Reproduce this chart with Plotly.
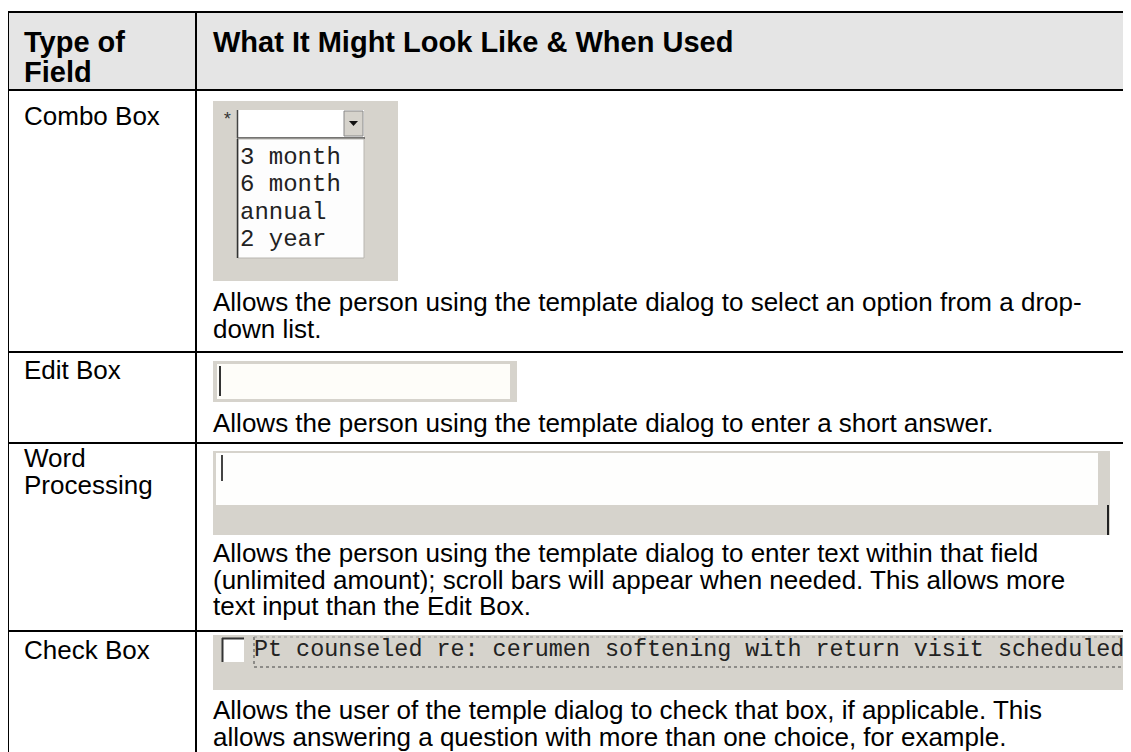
import plotly.graph_objects as go

# ---------------- data (table content) ----------------
header_labels = ["Type of", "Field", "What It Might Look Like & When Used"]
field_types = ["Combo Box", "Edit Box", "Word Processing", "Check Box"]
field_type_lines = [["Combo Box"], ["Edit Box"], ["Word", "Processing"], ["Check Box"]]
descriptions = [
    ["Allows the person using the template dialog to select an option from a drop-",
     "down list."],
    ["Allows the person using the template dialog to enter a short answer."],
    ["Allows the person using the template dialog to enter text within that field",
     "(unlimited amount); scroll bars will appear when needed. This allows more",
     "text input than the Edit Box."],
    ["Allows the user of the temple dialog to check that box, if applicable. This",
     "allows answering a question with more than one choice, for example."],
]
combo_options = ["3 month", "6 month", "annual", "2 year"]
checkbox_label = "Pt counseled re: cerumen softening with return visit scheduled"

# ---------------- layout geometry ----------------
PAGE_W, PAGE_H = 1131, 752
OFF = 8  # the page body margin
W, H = PAGE_W - OFF, PAGE_H - OFF
X_LEFT, X_DIV, X_RIGHT = 8, 196, 1140
ROW_EDGES = [12, 90, 352, 443, 631, 760]
TEXT_X0 = 212
LBL_X0 = 23
LINE_H = 26.5
SANS = "Liberation Sans, Arial, sans-serif"
MONO = "Liberation Mono, Courier New, monospace"
UI_GRAY = "#D6D3CC"
BODY_SIZE = 26
HEAD_SIZE = 29

shapes = []
annotations = []

def rect(x0, y0, x1, y1, fill, line=None, lw=0, dash=None):
    d = dict(type="rect", xref="x", yref="y", x0=x0, y0=y0, x1=x1, y1=y1,
             fillcolor=fill, layer="above",
             line=dict(width=lw, color=line or fill))
    if dash:
        d["line"]["dash"] = dash
    shapes.append(d)

def hline(x0, x1, y, color="#000", w=2, dash=None):
    d = dict(type="line", xref="x", yref="y", x0=x0, x1=x1, y0=y, y1=y,
             line=dict(color=color, width=w), layer="above")
    if dash:
        d["line"]["dash"] = dash
    shapes.append(d)

def vline(x, y0, y1, color="#000", w=2, dash=None):
    d = dict(type="line", xref="x", yref="y", x0=x, x1=x, y0=y0, y1=y1,
             line=dict(color=color, width=w), layer="above")
    if dash:
        d["line"]["dash"] = dash
    shapes.append(d)

def text(x, y, s, size=BODY_SIZE, bold=False, family=SANS, color="#000"):
    annotations.append(dict(
        x=x, y=y, xref="x", yref="y", text=("<b>%s</b>" % s) if bold else s,
        showarrow=False, xanchor="left", yanchor="middle", align="left",
        borderpad=0,
        font=dict(family=family, size=size, color=color)))

# header background
rect(X_LEFT, ROW_EDGES[0], X_RIGHT, ROW_EDGES[1], "#E5E5E5")

# header text
text(LBL_X0, 42, header_labels[0], size=HEAD_SIZE, bold=True)
text(LBL_X0, 72, header_labels[1], size=HEAD_SIZE, bold=True)
text(TEXT_X0, 42, header_labels[2], size=HEAD_SIZE, bold=True)

# left column labels
label_y_first = [116, 370, 458, 650]
for lines, y0 in zip(field_type_lines, label_y_first):
    for i, ln in enumerate(lines):
        text(LBL_X0, y0 + i * LINE_H, ln)

# descriptions
desc_y_first = [302, 423, 553, 710]
for lines, y0 in zip(descriptions, desc_y_first):
    for i, ln in enumerate(lines):
        text(TEXT_X0, y0 + i * LINE_H, ln)

# ---- combo box picture ----
rect(213, 101, 398, 281, UI_GRAY)
text(221, 120, "*", size=18, family=MONO, color="#333")
rect(238, 110, 364, 137, "#FFFFFF")
vline(237.5, 110, 138, color="#444", w=1.5)
hline(237, 365, 138, color="#555", w=1.5)
rect(344, 111, 363, 136, UI_GRAY, line="#888", lw=1)
shapes.append(dict(type="path", xref="x", yref="y",
                   path="M 349 121 L 358 121 L 353.5 126 Z",
                   fillcolor="#111", line=dict(width=0), layer="above"))
rect(238, 139, 364, 258, "#FDFDFD", line="#B8B6B0", lw=1)
vline(237.5, 139, 258, color="#333", w=1.5)
for i, opt in enumerate(combo_options):
    text(239, 157 + i * 27.5, opt, size=24, family=MONO, color="#222")

# ---- edit box picture ----
rect(213, 361, 517, 402, UI_GRAY)
rect(217, 364, 510, 399, "#FEFDF9")
vline(220, 366, 396, color="#333", w=2)

# ---- word processing picture ----
rect(213, 451, 1110, 535, UI_GRAY)
rect(216, 453, 1098, 505, "#FEFEFD")
vline(222, 455, 481, color="#444", w=2)
vline(1108, 505, 535, color="#222", w=2)

# ---- check box picture ----
rect(213, 635, 1129, 690, UI_GRAY)
rect(222, 638, 244, 662, "#FFFFFF")
hline(222, 244, 638.5, color="#333", w=2)
vline(222.5, 638, 662, color="#333", w=2)
hline(254, 1124, 667, color="#444", w=1, dash="dot")
vline(254, 637, 667, color="#444", w=1, dash="dot")
vline(1124, 637, 667, color="#444", w=1, dash="dot")
hline(254, 1124, 637, color="#999", w=1, dash="dot")
text(253, 650, checkbox_label, size=23.4, family=MONO, color="#222")

# ---- table grid ----
for y in ROW_EDGES[:-1]:
    hline(X_LEFT - 1, X_RIGHT, y)
vline(X_LEFT, ROW_EDGES[0], ROW_EDGES[-1])
vline(X_DIV, ROW_EDGES[0], ROW_EDGES[-1])

fig = go.Figure(go.Scatter(x=[], y=[], mode="markers", showlegend=False))
fig.update_layout(
    width=W, height=H, margin=dict(l=0, r=0, t=0, b=0),
    paper_bgcolor="#FFFFFF", plot_bgcolor="#FFFFFF",
    xaxis=dict(range=[OFF, PAGE_W], visible=False, fixedrange=True),
    yaxis=dict(range=[PAGE_H, OFF], visible=False, fixedrange=True),
    shapes=shapes, annotations=annotations, showlegend=False,
)
fig.write_html("out.html")
